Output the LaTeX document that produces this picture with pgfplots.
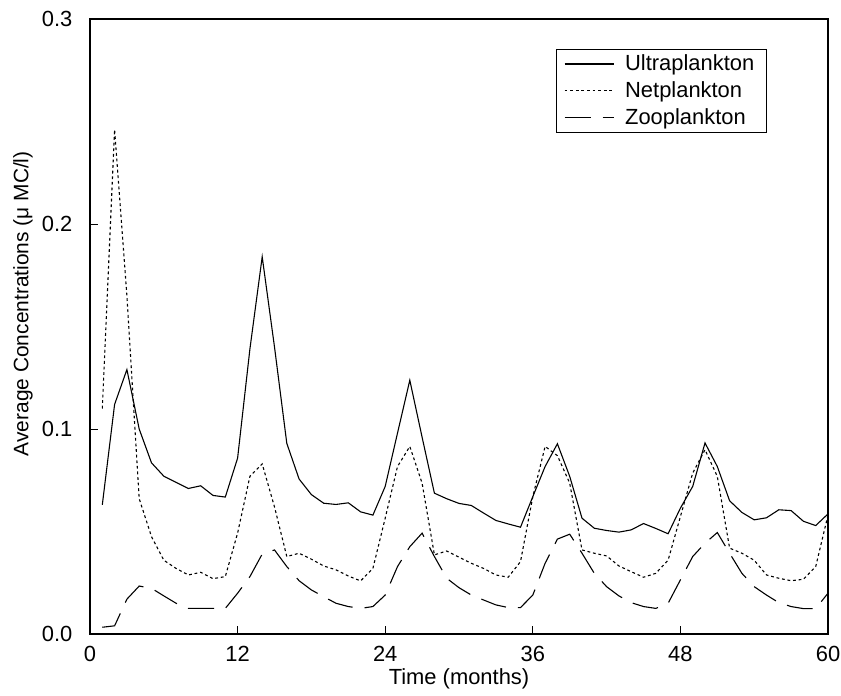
\documentclass[border=0pt]{standalone}
\usepackage{fontspec}
\setmainfont{Liberation Sans}
\usepackage{pgfplots}
\pgfplotsset{compat=1.18}

\pgfplotstableread{
m ultra net zoo
1 0.063 0.110 0.0033
2 0.112 0.246 0.0040
3 0.129 0.165 0.0170
4 0.100 0.066 0.0234
5 0.0835 0.0475 0.0223
6 0.077 0.036 0.0186
7 0.074 0.032 0.0150
8 0.071 0.0288 0.0125
9 0.0723 0.0301 0.0125
10 0.0676 0.027 0.0125
11 0.0668 0.028 0.0125
12 0.0858 0.0492 0.0199
13 0.139 0.0769 0.028
14 0.184 0.083 0.039
15 0.140 0.062 0.041
16 0.093 0.0378 0.0329
17 0.0756 0.0394 0.026
18 0.068 0.0365 0.0215
19 0.0638 0.0332 0.0182
20 0.0632 0.0313 0.015
21 0.064 0.0283 0.0134
22 0.0596 0.0259 0.0125
23 0.058 0.032 0.0134
24 0.072 0.0565 0.019
25 0.098 0.0817 0.0329
26 0.1238 0.0915 0.0426
27 0.096 0.0736 0.0492
28 0.0687 0.0386 0.0378
29 0.066 0.0405 0.0272
30 0.0637 0.0375 0.0226
31 0.0627 0.0345 0.019
32 0.059 0.032 0.0166
33 0.0554 0.0288 0.0142
34 0.0537 0.0277 0.0129
35 0.0521 0.0353 0.0129
36 0.067 0.067 0.019
37 0.0817 0.0915 0.0345
38 0.0928 0.087 0.0463
39 0.0769 0.0736 0.0487
40 0.0565 0.041 0.0394
41 0.0516 0.0394 0.0296
42 0.0505 0.0381 0.0231
43 0.0497 0.0332 0.0186
44 0.0508 0.0304 0.0153
45 0.0539 0.0277 0.0134
46 0.0515 0.0296 0.0125
47 0.0489 0.036 0.015
48 0.0614 0.0573 0.0264
49 0.072 0.0785 0.0378
50 0.0932 0.0899 0.0443
51 0.0817 0.0769 0.0495
52 0.065 0.0419 0.0394
53 0.0593 0.0394 0.0296
54 0.0557 0.036 0.0231
55 0.0567 0.0288 0.019
56 0.0606 0.0272 0.0153
57 0.0602 0.026 0.0134
58 0.055 0.0267 0.0124
59 0.0529 0.0329 0.0124
60 0.0586 0.058 0.0199
}\plank

\begin{document}
\begin{tikzpicture}
\begin{axis}[
    scale only axis,
    width=369bp, height=307.5bp,
    xmin=0, xmax=60, ymin=0, ymax=0.3,
    xtick={0,12,24,36,48,60},
    ytick={0,0.1,0.2,0.3},
    yticklabel style={/pgf/number format/fixed, /pgf/number format/fixed zerofill,
        /pgf/number format/precision=1},
    /pgf/number format/assume math mode=true,
    tick pos=left, tick align=inside,
    major tick length=4bp,
    tick style={black, line width=0.5pt},
    axis line style={line width=0.7pt},
    ticklabel style={font=\fontsize{11}{13}\selectfont},
    x tick label style={yshift=-2.8bp, inner xsep=0pt},
    y tick label style={xshift=-5.3bp, inner ysep=0pt},
    xlabel={Time (months)},
    ylabel={Average Concentrations (μ MC/l)},
    xlabel style={font=\fontsize{11}{13}\selectfont,
        at={(axis description cs:0.5,-0.0813)}, anchor=base},
    ylabel style={font=\fontsize{10.5}{12}\selectfont,
        at={(axis description cs:-0.0908,0.537)}, anchor=center},
    legend style={at={(0.917,0.951)}, anchor=north east, draw=black,
        line width=0.5pt, font=\fontsize{11}{13}\selectfont,
        row sep=0pt, inner xsep=4pt, inner ysep=0.5pt,
        /tikz/every odd column/.append style={column sep=3.5pt}},
    legend cell align={left},
    legend image code/.code={\draw[#1] (0cm,0cm) -- (24.5bp,0cm);},
]
\addplot[black, line width=0.55pt] table[x=m, y=ultra] {\plank};
\addplot[black, line width=0.55pt, dash pattern=on 1.4bp off 1.4bp] table[x=m, y=net] {\plank};
\addplot[black, line width=0.55pt, dash pattern=on 13bp off 6bp] table[x=m, y=zoo] {\plank};
\legend{Ultraplankton, Netplankton, Zooplankton}
\end{axis}
\path ([xshift=-45bp]current axis.west) ([xshift=6.5bp]current axis.east)
      ([yshift=9.5bp]current axis.north) ([yshift=-29.5bp]current axis.south);
\end{tikzpicture}
\end{document}
